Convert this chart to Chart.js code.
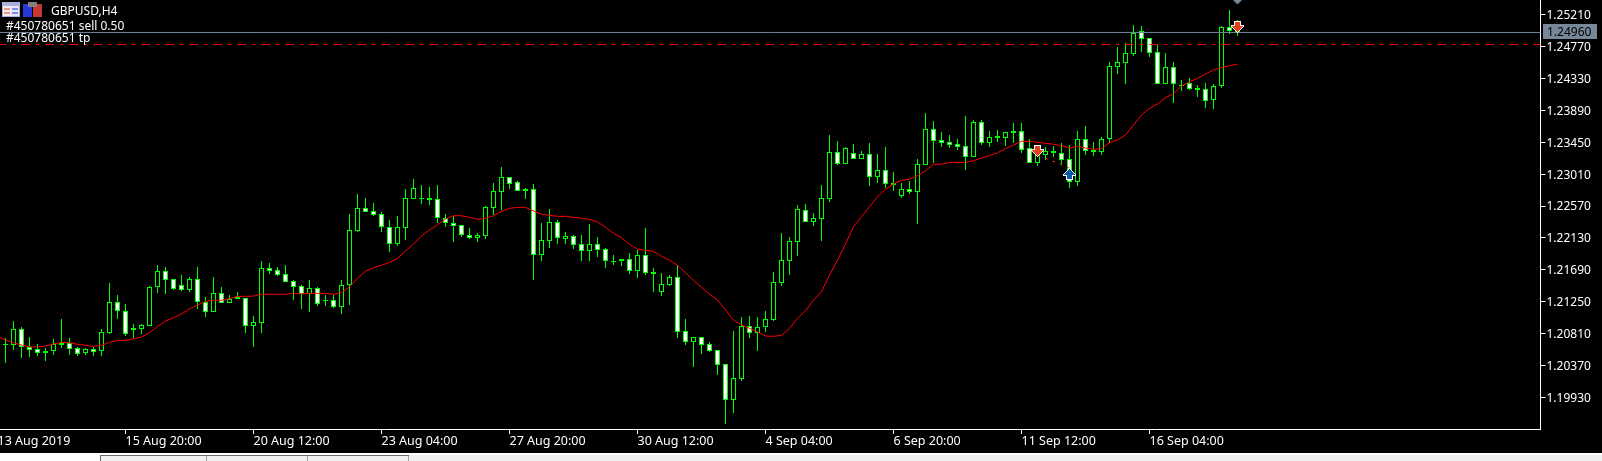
<!DOCTYPE html>
<html>
<head>
<meta charset="utf-8">
<title>GBPUSD,H4</title>
<script src="https://cdn.jsdelivr.net/npm/chart.js@4"></script>
<style>
  html, body { margin: 0; padding: 0; background: #000; overflow: hidden; }
  canvas { display: block; }
</style>
</head>
<body>
<canvas id="canvas" width="1602" height="461"></canvas>
<script>
// prices, one entry per H4 candle
var highs = [1.20749,1.20983,1.20900,1.20762,1.20666,1.20611,1.20735,1.21011,1.20749,1.20624,1.20611,1.20624,1.20873,1.21508,1.21342,1.21218,1.20942,1.20942,1.21466,1.21756,1.21728,1.21563,1.21618,1.21591,1.21728,1.21314,1.21591,1.21453,1.21342,1.21383,1.21301,1.21052,1.21811,1.21784,1.21728,1.21756,1.21549,1.21480,1.21549,1.21453,1.21342,1.21342,1.21549,1.22460,1.22736,1.22681,1.22612,1.22487,1.22377,1.22432,1.22805,1.22943,1.22860,1.22832,1.22860,1.22460,1.22432,1.22308,1.22267,1.22198,1.22570,1.22888,1.23108,1.22970,1.22915,1.22819,1.22874,1.22336,1.22529,1.22377,1.22211,1.22170,1.22170,1.22322,1.22142,1.21991,1.21894,1.21839,1.21922,1.21963,1.22267,1.21715,1.21646,1.21618,1.21756,1.21011,1.20762,1.20762,1.20693,1.20583,1.20390,1.20845,1.21038,1.21052,1.21038,1.21121,1.21659,1.22198,1.22142,1.22584,1.22598,1.22474,1.22860,1.23550,1.23467,1.23384,1.23426,1.23329,1.23440,1.23288,1.23384,1.23039,1.22888,1.22915,1.23219,1.23854,1.23743,1.23591,1.23550,1.23495,1.23812,1.23757,1.23757,1.23605,1.23619,1.23591,1.23716,1.23716,1.23495,1.23398,1.23384,1.23398,1.23440,1.23412,1.23605,1.23674,1.23453,1.23522,1.24557,1.24764,1.24820,1.25068,1.25054,1.24889,1.24806,1.24682,1.24557,1.24309,1.24337,1.24240,1.24268,1.24254,1.25054,1.25275,1.25137];
var opens = [1.20652,1.20652,1.20873,1.20624,1.20597,1.20542,1.20569,1.20652,1.20680,1.20611,1.20542,1.20597,1.20569,1.20818,1.21245,1.21121,1.20859,1.20873,1.20914,1.21453,1.21673,1.21563,1.21480,1.21411,1.21563,1.21245,1.21107,1.21370,1.21232,1.21287,1.21301,1.20914,1.20956,1.21715,1.21687,1.21632,1.21535,1.21466,1.21356,1.21439,1.21259,1.21273,1.21176,1.21480,1.22225,1.22543,1.22501,1.22460,1.22280,1.22046,1.22267,1.22667,1.22667,1.22653,1.22667,1.22405,1.22336,1.22308,1.22170,1.22129,1.22156,1.22543,1.22763,1.22970,1.22901,1.22777,1.22805,1.21894,1.22087,1.22349,1.22115,1.22156,1.22046,1.21949,1.22046,1.21977,1.21797,1.21811,1.21839,1.21673,1.21894,1.21659,1.21383,1.21480,1.21591,1.20845,1.20693,1.20762,1.20666,1.20583,1.20390,1.19893,1.20183,1.20914,1.20818,1.20900,1.20997,1.21508,1.21811,1.22073,1.22515,1.22349,1.22391,1.22667,1.23315,1.23150,1.23302,1.23219,1.23288,1.22970,1.23067,1.22888,1.22708,1.22805,1.22763,1.23136,1.23633,1.23481,1.23453,1.23426,1.23398,1.23246,1.23729,1.23440,1.23509,1.23509,1.23578,1.23605,1.23371,1.23164,1.23274,1.23329,1.23302,1.23219,1.22901,1.23495,1.23315,1.23315,1.23495,1.24488,1.24544,1.24668,1.24985,1.24889,1.24695,1.24254,1.24488,1.24226,1.24268,1.24171,1.24185,1.24033,1.24226,1.25040,1.24985];
var closes = [1.20666,1.20873,1.20624,1.20583,1.20542,1.20569,1.20666,1.20680,1.20597,1.20528,1.20597,1.20555,1.20832,1.21245,1.21121,1.20804,1.20887,1.20928,1.21453,1.21673,1.21549,1.21425,1.21411,1.21563,1.21245,1.21107,1.21370,1.21232,1.21287,1.21314,1.20914,1.20969,1.21715,1.21673,1.21618,1.21521,1.21453,1.21356,1.21439,1.21218,1.21273,1.21176,1.21480,1.22239,1.22543,1.22487,1.22446,1.22280,1.22046,1.22280,1.22681,1.22819,1.22681,1.22681,1.22405,1.22336,1.22294,1.22170,1.22129,1.22170,1.22556,1.22777,1.22970,1.22874,1.22777,1.22805,1.21894,1.22101,1.22349,1.22129,1.22156,1.22032,1.21949,1.22046,1.21963,1.21811,1.21811,1.21839,1.21673,1.21894,1.21646,1.21632,1.21494,1.21591,1.20832,1.20693,1.20762,1.20652,1.20569,1.20376,1.19893,1.20197,1.20914,1.20818,1.20900,1.21011,1.21521,1.21825,1.22087,1.22529,1.22349,1.22405,1.22681,1.23315,1.23150,1.23371,1.23219,1.23288,1.22970,1.23067,1.22874,1.22860,1.22805,1.22763,1.23150,1.23633,1.23467,1.23440,1.23412,1.23384,1.23246,1.23729,1.23440,1.23522,1.23536,1.23591,1.23605,1.23343,1.23164,1.23315,1.23329,1.23302,1.23205,1.22901,1.23495,1.23329,1.23343,1.23495,1.24502,1.24557,1.24682,1.24958,1.24875,1.24682,1.24254,1.24488,1.24254,1.24240,1.24185,1.24199,1.24019,1.24226,1.25040,1.24985,1.24958];
var lows = [1.20404,1.20583,1.20473,1.20486,1.20500,1.20431,1.20514,1.20611,1.20514,1.20500,1.20514,1.20500,1.20500,1.20804,1.21011,1.20776,1.20749,1.20804,1.20914,1.21370,1.21356,1.21411,1.21397,1.21383,1.21149,1.21038,1.21107,1.21232,1.21232,1.21287,1.20818,1.20624,1.20818,1.21632,1.21604,1.21521,1.21273,1.21149,1.21107,1.21190,1.21190,1.21163,1.21080,1.21204,1.22211,1.22487,1.22432,1.22211,1.21935,1.22018,1.22101,1.22667,1.22598,1.22584,1.22336,1.22280,1.22073,1.22142,1.22115,1.22073,1.22115,1.22446,1.22515,1.22805,1.22777,1.22667,1.21549,1.21811,1.21991,1.22046,1.22046,1.21977,1.21811,1.21811,1.21866,1.21715,1.21756,1.21742,1.21632,1.21577,1.21618,1.21383,1.21328,1.21466,1.20749,1.20652,1.20349,1.20528,1.20555,1.20238,1.19562,1.19714,1.20155,1.20749,1.20569,1.20832,1.20983,1.21466,1.21618,1.21880,1.22349,1.22294,1.22087,1.22625,1.23136,1.23150,1.23219,1.23219,1.22846,1.22888,1.22819,1.22777,1.22681,1.22736,1.22322,1.23136,1.23164,1.23384,1.23371,1.23343,1.23067,1.23246,1.23412,1.23384,1.23453,1.23398,1.23440,1.23302,1.23164,1.23122,1.23205,1.23246,1.23150,1.22819,1.22846,1.23274,1.23260,1.23274,1.23440,1.24392,1.24254,1.24640,1.24695,1.24626,1.24254,1.24254,1.23992,1.24157,1.24171,1.24074,1.23923,1.23909,1.24199,1.24944,1.24916];

// moving average, starts one bar left of the first candle
var ma = [1.20769,1.20721,1.20684,1.20652,1.20628,1.20624,1.20638,1.20666,1.20689,1.20684,1.20662,1.20648,1.20634,1.20648,1.20689,1.20717,1.20717,1.20735,1.20762,1.20822,1.20910,1.20983,1.21029,1.21080,1.21149,1.21204,1.21255,1.21269,1.21269,1.21291,1.21324,1.21324,1.21328,1.21352,1.21352,1.21352,1.21352,1.21365,1.21356,1.21365,1.21365,1.21365,1.21352,1.21374,1.21453,1.21572,1.21669,1.21719,1.21752,1.21793,1.21848,1.21949,1.22046,1.22156,1.22239,1.22312,1.22391,1.22436,1.22436,1.22414,1.22387,1.22400,1.22436,1.22497,1.22538,1.22552,1.22552,1.22501,1.22456,1.22442,1.22428,1.22428,1.22414,1.22400,1.22387,1.22349,1.22280,1.22193,1.22133,1.22042,1.21973,1.21959,1.21945,1.21876,1.21821,1.21752,1.21652,1.21545,1.21448,1.21356,1.21273,1.21135,1.20997,1.20928,1.20882,1.20832,1.20776,1.20772,1.20786,1.20882,1.21020,1.21125,1.21273,1.21387,1.21618,1.21825,1.22046,1.22285,1.22423,1.22561,1.22699,1.22801,1.22874,1.22925,1.22939,1.22988,1.23057,1.23146,1.23146,1.23173,1.23173,1.23173,1.23195,1.23233,1.23264,1.23306,1.23361,1.23412,1.23463,1.23463,1.23449,1.23436,1.23422,1.23402,1.23371,1.23394,1.23371,1.23353,1.23361,1.23444,1.23481,1.23550,1.23688,1.23826,1.23918,1.23978,1.24065,1.24120,1.24226,1.24285,1.24332,1.24392,1.24447,1.24479,1.24506,1.24526];

var priceTicks = [1.25210,1.24770,1.24330,1.23890,1.23450,1.23010,1.22570,1.22130,1.21690,1.21250,1.20810,1.20370,1.19930];
var timeTickBars = [-1,15,31,47,63,79,95,111,127,143];
var timeTickLabels = ["13 Aug 2019","15 Aug 20:00","20 Aug 12:00","23 Aug 04:00","27 Aug 20:00","30 Aug 12:00","4 Sep 04:00","6 Sep 20:00","11 Sep 12:00","16 Sep 04:00"];

var bidPrice = 1.24965;
var bidLabel = "1.24960";
var tpPrice = 1.24799;
var sellMarks = [{x:129,y:1.23322},{x:154,y:1.25034}];
var buyMarks = [{x:133,y:1.23019}];
var stopMarks = [{x:154,y:1.25427}];
var tradeLine = [{x:129,y:1.23274},{x:133,y:1.23095}];

var barIndex = highs.map(function(h,i){ return i });
var xMin = -0.6875, xMax = 191.875;

function wickData(){
    return barIndex.map(function(i){ return {x:i, y:[lows[i],highs[i]]} });
}
function bodyData(){
    return barIndex.map(function(i){ return {x:i, y:[opens[i],closes[i]]} });
}
function maData(){
    return ma.map(function(v,i){ return {x:i-1, y:v} });
}

// arrow sprite, used as the point style of the deal markers
function arrowSprite(color, up){
    var c = document.createElement('canvas');
    c.width = 13; c.height = 13;
    var g = c.getContext('2d');
    if(up){ g.translate(0,13); g.scale(1,-1); }
    g.fillStyle = '#fff';
    g.fillRect(3,0,7,4);
    g.fillRect(0,4,13,1);
    for(var r=0;r<7;r++){ g.fillRect(r,5+r,13-2*r,1); }
    g.fillStyle = color;
    g.fillRect(4,1,5,4);
    for(var s=0;s<6;s++){ g.fillRect(1+s,5+s,11-2*s,1); }
    return c;
}

// terminal decorations: window icons, order comments, bid box, bottom tab bar
var terminalPlugin = {
    id: 'terminal',
    afterDraw: function(chart){
        var ctx = chart.ctx;
        var y = chart.scales.y;
        ctx.save();

        ctx.fillStyle = '#a8b0dc'; ctx.fillRect(2,2,18,15);
        ctx.fillStyle = '#f8ecec'; ctx.fillRect(3,6,8,10);
        ctx.fillStyle = '#e89a90'; ctx.fillRect(4,8,6,2); ctx.fillRect(4,12,6,2);
        ctx.fillStyle = '#e4e8fa'; ctx.fillRect(11,6,8,10);
        ctx.fillStyle = '#8090e0'; ctx.fillRect(12,8,6,2); ctx.fillRect(12,12,6,2);
        ctx.fillStyle = '#2838d8'; ctx.fillRect(23,4,9,13);
        ctx.fillStyle = '#c83830'; ctx.fillRect(33,4,9,13);
        ctx.fillStyle = '#808080'; ctx.fillRect(28,2,9,5);

        ctx.fillStyle = '#fff';
        ctx.font = '12px "Noto Sans"';
        ctx.textBaseline = 'middle';
        ctx.textAlign = 'left';
        ctx.fillText('GBPUSD,H4', 51, 12);
        ctx.fillText('#450780651 sell 0.50', 6, 27);
        ctx.fillText('#450780651 tp', 6, 39);

        var by = Math.round(y.getPixelForValue(bidPrice));
        ctx.fillStyle = '#778899';
        ctx.fillRect(1543, by-8, 54, 15);
        ctx.fillStyle = '#000';
        ctx.fillText(bidLabel, 1547, by+1);

        ctx.fillStyle = '#fff'; ctx.fillRect(0,453,1602,8);
        ctx.fillStyle = '#f0f0f0'; ctx.fillRect(101,455,1501,6);
        ctx.fillStyle = '#696969';
        ctx.fillRect(100,455,309,1); ctx.fillRect(100,455,1,6);
        ctx.fillStyle = '#a0a0a0';
        ctx.fillRect(206,456,1,5); ctx.fillRect(307,456,1,5); ctx.fillRect(408,456,1,5);
        ctx.restore();
    }
};

const ctx = document.getElementById('canvas').getContext('2d');
const myChart = new Chart(ctx, {
    type: 'bar',
    data: {
        datasets: [
            {
                label: 'wick',
                data: wickData(),
                grouped: false,
                order: 6,
                maxBarThickness: 1,
                categoryPercentage: 1,
                barPercentage: 1,
                inflateAmount: 0,
                backgroundColor: '#00ff00',
                borderWidth: 0
            },
            {
                label: 'body',
                data: bodyData(),
                grouped: false,
                order: 5,
                maxBarThickness: 5,
                categoryPercentage: 1,
                barPercentage: 1,
                inflateAmount: 0,
                backgroundColor: barIndex.map(function(i){ return closes[i] < opens[i] ? '#fff' : '#000' }),
                borderColor: '#00ff00',
                borderWidth: 1,
                borderSkipped: false
            },
            {
                type: 'line',
                label: 'tp',
                data: [{x:xMin,y:tpPrice},{x:xMax,y:tpPrice}],
                order: 4,
                borderColor: '#ff0000',
                borderWidth: 1,
                borderDash: [9,6,3,6],
                borderDashOffset: 2.7,
                pointRadius: 0
            },
            {
                type: 'line',
                label: 'bid',
                data: [{x:xMin,y:bidPrice},{x:xMax,y:bidPrice}],
                order: 4,
                borderColor: '#778899',
                borderWidth: 1,
                pointRadius: 0
            },
            {
                type: 'line',
                label: 'ma',
                data: maData(),
                order: 3,
                borderColor: '#ff0000',
                borderWidth: 1,
                pointRadius: 0,
                tension: 0
            },
            {
                type: 'line',
                label: 'trade',
                data: tradeLine,
                order: 2,
                borderColor: '#e0421f',
                borderWidth: 1,
                borderDash: [3,5],
                pointRadius: 0
            },
            {
                type: 'scatter',
                label: 'sell',
                data: sellMarks,
                order: 1,
                pointStyle: arrowSprite('#e0421f', false),
                pointRadius: 6
            },
            {
                type: 'scatter',
                label: 'buy',
                data: buyMarks,
                order: 1,
                pointStyle: arrowSprite('#0a5aa8', true),
                pointRadius: 6
            },
            {
                type: 'scatter',
                label: 'stop',
                data: stopMarks,
                order: 1,
                clip: false,
                pointStyle: 'rectRot',
                pointRadius: 5,
                backgroundColor: '#778899',
                borderColor: '#778899'
            }
        ]
    },
    options: {
        responsive: false,
        animation: false,
        events: [],
        layout: { padding: 0, autoPadding: false },
        plugins: {
            legend: { display: false },
            tooltip: { enabled: false }
        },
        scales: {
            x: {
                type: 'linear',
                min: xMin,
                max: xMax,
                offset: false,
                afterBuildTicks: function(s){
                    s.ticks = timeTickBars.map(function(v){ return {value:v} });
                },
                afterFit: function(s){
                    s.height = 32;
                    s.paddingLeft = 0;
                    s.paddingRight = 0;
                },
                border: { color: '#fff', width: 1 },
                grid: { offset: false, drawOnChartArea: false, drawTicks: true, tickLength: 5, tickColor: '#fff' },
                ticks: {
                    color: '#fff',
                    font: { family: '"Noto Sans"', size: 12.5 },
                    align: 'start',
                    autoSkip: false,
                    maxRotation: 0,
                    padding: 0,
                    callback: function(v){
                        return timeTickLabels[timeTickBars.indexOf(v)];
                    }
                }
            },
            y: {
                position: 'right',
                min: 1.19493,
                max: 1.25413,
                afterBuildTicks: function(s){
                    s.ticks = priceTicks.map(function(v){ return {value:v} });
                },
                afterFit: function(s){
                    s.width = 61.5;
                    s.paddingTop = 0;
                    s.paddingBottom = 0;
                },
                border: { color: '#fff', width: 1 },
                grid: { drawOnChartArea: false, drawTicks: true, tickLength: 5, tickColor: '#fff' },
                ticks: {
                    color: '#fff',
                    font: { family: '"Noto Sans"', size: 12 },
                    autoSkip: false,
                    padding: 1,
                    labelOffset: 1,
                    callback: function(v){
                        return v.toFixed(5);
                    }
                }
            }
        }
    },
    plugins: [terminalPlugin]
});
</script>
</body>
</html>
